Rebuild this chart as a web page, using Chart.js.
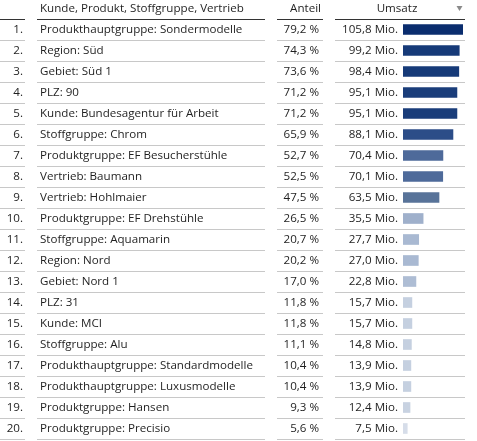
<!DOCTYPE html>
<html>
<head>
<meta charset="utf-8">
<script src="https://cdn.jsdelivr.net/npm/chart.js@4"></script>
<style>
  html, body { margin: 0; padding: 0; background: #ffffff; }
  #wrap { width: 477px; height: 441px; }
</style>
</head>
<body>
<div id="wrap"><canvas id="chartTable" width="477" height="441"></canvas></div>
<script>
const names = [
    'Produkthauptgruppe: Sondermodelle', 'Region: Süd', 'Gebiet: Süd 1', 'PLZ: 90',
    'Kunde: Bundesagentur für Arbeit', 'Stoffgruppe: Chrom', 'Produktgruppe: EF Besucherstühle',
    'Vertrieb: Baumann', 'Vertrieb: Hohlmaier', 'Produktgruppe: EF Drehstühle',
    'Stoffgruppe: Aquamarin', 'Region: Nord', 'Gebiet: Nord 1', 'PLZ: 31', 'Kunde: MCI',
    'Stoffgruppe: Alu', 'Produkthauptgruppe: Standardmodelle', 'Produkthauptgruppe: Luxusmodelle',
    'Produktgruppe: Hansen', 'Produktgruppe: Precisio'
];
const anteil = [79.2, 74.3, 73.6, 71.2, 71.2, 65.9, 52.7, 52.5, 47.5, 26.5, 20.7, 20.2, 17.0, 11.8, 11.8, 11.1, 10.4, 10.4, 9.3, 5.6];
const umsatz = [105.8, 99.2, 98.4, 95.1, 95.1, 88.1, 70.4, 70.1, 63.5, 35.5, 27.7, 27.0, 22.8, 15.7, 15.7, 14.8, 13.9, 13.9, 12.4, 7.5];
const headers = ['Kunde, Produkt, Stoffgruppe, Vertrieb', 'Anteil', 'Umsatz'];

const barColors = [
    '#0a2d6e', '#163a78', '#163a78', '#1a3d7a', '#1a3d7a', '#2c4d88',
    '#4e6a9a', '#4e6a9a', '#587399', '#9fb0cb', '#a9b9d2', '#a9b9d2', '#aebdd4',
    '#c5d0e0', '#c5d0e0', '#c5d0e0', '#c5d0e0', '#c5d0e0', '#c8d2e1', '#d6dde9'
];

const FONT = '11.6px "Segoe UI", "Open Sans", sans-serif';
const fmt = v => v.toFixed(1).replace('.', ',');

const tablePlugin = {
    id: 'tablePlugin',
    afterDraw(chart) {
        const ctx = chart.ctx;
        const y = chart.scales.y;
        const rowH = Math.abs(y.getPixelForValue(1) - y.getPixelForValue(0));
        const cols = [[0, 25], [37, 265], [277, 323], [335, 465]];
        ctx.save();
        ctx.font = FONT;
        ctx.textBaseline = 'middle';

        // header
        ctx.fillStyle = '#1f1f1f';
        ctx.textAlign = 'left';
        ctx.fillText(headers[0], 40, 9);
        ctx.textAlign = 'right';
        ctx.fillText(headers[1], 321, 9);
        ctx.textAlign = 'center';
        ctx.fillText(headers[2], 397, 9);
        // sort arrow
        ctx.fillStyle = '#8a8a8a';
        ctx.beginPath();
        ctx.moveTo(456.5, 6); ctx.lineTo(462.5, 6); ctx.lineTo(459.5, 11); ctx.closePath();
        ctx.fill();

        const top = y.getPixelForValue(0) - rowH / 2;
        ctx.strokeStyle = '#333333';
        ctx.lineWidth = 1;
        cols.forEach(([a, b]) => {
            ctx.beginPath();
            ctx.moveTo(a, Math.round(top) + 0.5); ctx.lineTo(b, Math.round(top) + 0.5);
            ctx.stroke();
        });

        names.forEach((n, i) => {
            const cy = y.getPixelForValue(i);
            ctx.fillStyle = '#1f1f1f';
            ctx.textAlign = 'right';
            ctx.fillText((i + 1) + '.', 23, cy + 0.5);
            ctx.textAlign = 'left';
            ctx.fillText(n, 40, cy + 0.5);
            ctx.textAlign = 'right';
            ctx.fillText(fmt(anteil[i]) + ' %', 319, cy + 0.5);
            ctx.fillText(fmt(umsatz[i]) + ' Mio.', 398, cy + 0.5);

            const ly = Math.round(cy + rowH / 2) + 0.5;
            ctx.strokeStyle = '#c8c8c8';
            cols.forEach(([a, b]) => {
                ctx.beginPath();
                ctx.moveTo(a, ly); ctx.lineTo(b, ly);
                ctx.stroke();
            });
        });
        ctx.restore();
    }
};

new Chart(document.getElementById('chartTable').getContext('2d'), {
    type: 'bar',
    data: {
        labels: names,
        datasets: [{
            data: umsatz,
            backgroundColor: barColors,
            borderWidth: 0,
            barThickness: 10
        }]
    },
    options: {
        indexAxis: 'y',
        responsive: false,
        animation: false,
        layout: { padding: { left: 403, right: 14, top: 19, bottom: 2 } },
        scales: {
            x: { display: false, min: 0, max: 105.8 },
            y: { display: false }
        },
        plugins: { legend: { display: false }, tooltip: { enabled: false } }
    },
    plugins: [tablePlugin]
});
</script>
</body>
</html>
